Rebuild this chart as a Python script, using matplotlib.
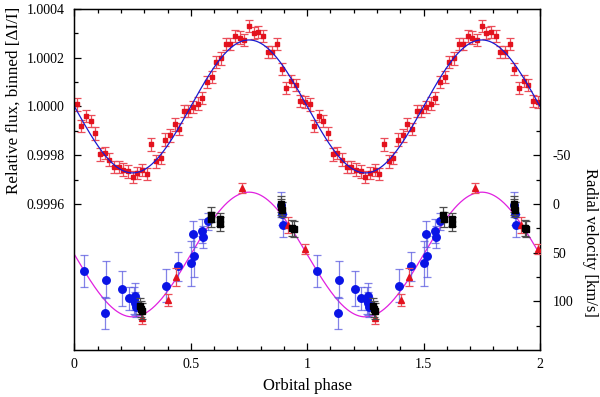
import numpy as np
import matplotlib
matplotlib.use("Agg")
import matplotlib.pyplot as plt
from matplotlib.ticker import FixedLocator

plt.rcParams['font.family'] = ['Liberation Serif', 'DejaVu Serif']

# ---- photometry (one orbital cycle, repeated for phase 1-2) ----
flux_phase = [0.01, 0.03, 0.05, 0.07, 0.09, 0.11, 0.13, 0.15, 0.17, 0.19,
              0.21, 0.23, 0.25, 0.27, 0.29, 0.31, 0.33, 0.35, 0.37, 0.39,
              0.41, 0.43, 0.45, 0.47, 0.49, 0.51, 0.53, 0.55, 0.57, 0.59,
              0.61, 0.63, 0.65, 0.67, 0.69, 0.71, 0.73, 0.75, 0.77, 0.79,
              0.81, 0.83, 0.85, 0.87, 0.89, 0.91, 0.93, 0.95, 0.97, 0.99]
flux_dev_ppm = [8, -81, -38, -60, -111, -197, -191, -218, -249, -249,
                -259, -267, -291, -273, -262, -278, -156, -226, -211, -136,
                -119, -74, -94, -19, -19, -1, 12, 35, 100, 120,
                183, 197, 257, 255, 288, 283, 272, 330, 302, 307,
                290, 224, 222, 255, 154, 75, 106, 88, 22, 17]
flux_err_ppm = 25

# light-curve model parameters
flux_mean = 1.0
flux_amp = 0.000273

# ---- radial velocities (one cycle, repeated) ----
blue_phase = [0.041, 0.135, 0.131, 0.204, 0.233, 0.255, 0.262, 0.262, 0.266, 0.393,
              0.447, 0.500, 0.514, 0.511, 0.549, 0.553, 0.572, 0.888, 0.891, 0.896]
blue_rv = [69, 78, 112, 87, 97, 99, 95, 102, 106, 84,
           64, 61, 54, 31, 28, 34, 18, 1, 10, 22]
blue_err = [16, 19, 16, 18, 12, 14, 14, 12, 10, 17,
            15, 23, 21, 13, 12, 11, 9, 13, 12, 12]

black_phase = [0.283, 0.287, 0.291, 0.585, 0.587, 0.624, 0.624, 0.889, 0.889, 0.891, 0.936, 0.942]
black_rv = [105, 108, 110, 11, 16, 16, 21, 0, 3, 6, 25, 26]
black_err = [8, 8, 8, 8, 8, 7, 7, 8, 8, 8, 8, 8]

red_phase = [0.291, 0.401, 0.438, 0.719, 0.918, 0.991]
red_rv = [117, 99, 75, -16, 22, 46]
red_err = [6, 6, 9, 5, 8, 5]

# RV model parameters
rv_gamma = 52.0
rv_K = 64.0

fig = plt.figure(figsize=(6.0, 3.97), dpi=100)
ax = fig.add_axes([0.124, 0.1184, 0.776, 0.8589])
ax2 = ax.twinx()

# flux
fp = np.array(flux_phase)
fv = 1.0 + np.array(flux_dev_ppm) * 1e-6
for off in (0, 1):
    ax.errorbar(fp + off, fv, yerr=flux_err_ppm * 1e-6, fmt='s', ms=2.6,
                color='#e3121e', ecolor=(0.92, 0.3, 0.35), elinewidth=0.9,
                capsize=3.2, capthick=0.9, zorder=2)
grid = np.linspace(0, 2, 600)
ax.plot(grid, flux_mean - flux_amp * np.sin(2 * np.pi * grid), color='#1a1ad0',
        lw=0.9, zorder=3)

# RV
ax2.plot(grid, rv_gamma + rv_K * np.sin(2 * np.pi * grid), color='#e020e0', lw=0.9, zorder=1)
for off in (0, 1):
    ax2.errorbar(np.array(blue_phase) + off, blue_rv, yerr=blue_err, fmt='o', ms=5.4,
                 color='#0a14e6', ecolor=(0.35, 0.35, 0.88, 0.75), elinewidth=0.9,
                 capsize=3.2, capthick=0.9, zorder=2)
    ax2.errorbar(np.array(red_phase) + off, red_rv, yerr=red_err, fmt='^', ms=4.0,
                 color='#e3121e', ecolor=(0.92, 0.3, 0.35), elinewidth=0.9,
                 capsize=3.2, capthick=0.9, zorder=3)
    ax2.errorbar(np.array(black_phase) + off, black_rv, yerr=black_err, fmt='s', ms=4.6,
                 color='black', ecolor=(0.3, 0.3, 0.3), elinewidth=0.9,
                 capsize=3.2, capthick=0.9, zorder=4)

ax.set_xlim(0, 2)
ax.set_ylim(0.999, 1.0004)
ax2.set_ylim(150, -200)

ax.xaxis.set_major_locator(FixedLocator([0, 0.5, 1, 1.5, 2]))
ax.xaxis.set_minor_locator(FixedLocator([i / 10 for i in range(21)]))
ax.set_xticklabels(['0', '0.5', '1', '1.5', '2'])
ax.yaxis.set_major_locator(FixedLocator([0.9996, 0.9998, 1.0, 1.0002, 1.0004]))
ax.yaxis.set_minor_locator(FixedLocator([0.9997, 0.9999, 1.0001, 1.0003]))
ax.set_yticklabels(['0.9996', '0.9998', '1.0000', '1.0002', '1.0004'])
ax2.yaxis.set_major_locator(FixedLocator([-50, 0, 50, 100]))
ax2.yaxis.set_minor_locator(FixedLocator([-75, -25, 25, 75, 125]))
ax2.set_yticklabels(['-50', '0', '50', '100'])

ax.tick_params(axis='x', which='both', direction='in', top=True, bottom=True,
               labelsize=10, pad=6)
ax.tick_params(axis='y', which='both', direction='in', left=True, right=False,
               labelsize=10, pad=7)
ax2.tick_params(axis='y', which='both', direction='in', left=False, right=True,
                labelsize=10, pad=9)
for a in (ax, ax2):
    a.tick_params(which='major', length=5, width=0.9)
    a.tick_params(which='minor', length=2.8, width=0.9)
for sp in ax2.spines.values():
    sp.set_linewidth(1.0)

ax.set_xlabel('Orbital phase', fontsize=12, labelpad=5)
fig.text(0.022, 0.748, 'Relative flux, binned [ΔI/I]', rotation=90,
         ha='center', va='center', fontsize=12.3)
fig.text(0.983, 0.39, 'Radial velocity [km/s]', rotation=-90,
         ha='center', va='center', fontsize=12)

fig.savefig('out.png', dpi=100)
